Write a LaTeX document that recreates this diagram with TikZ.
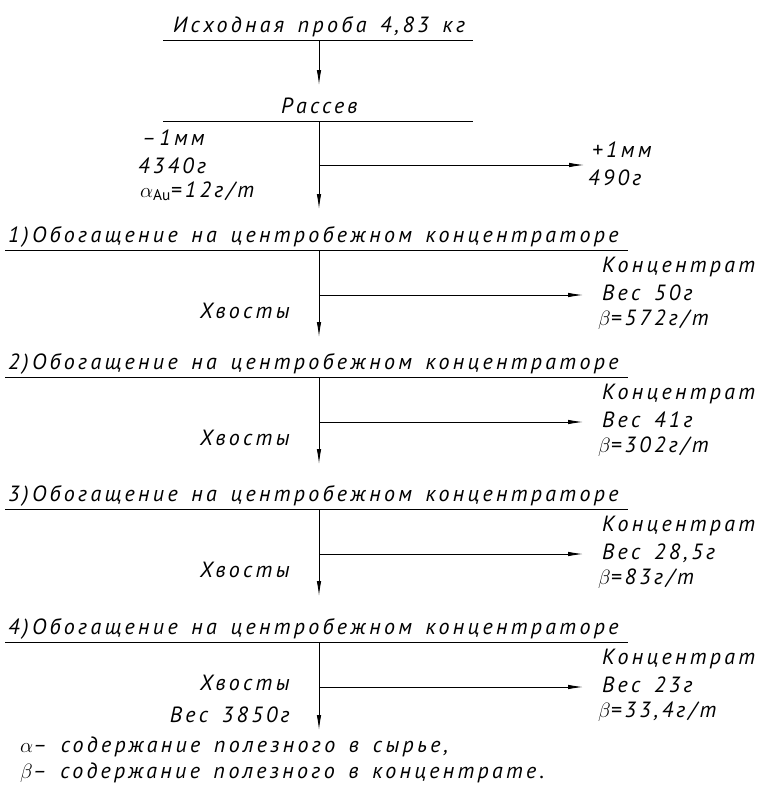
\documentclass[tikz,border=0pt]{standalone}
\usepackage{fontspec}
\setmainfont{PT Sans}[LetterSpace=15, WordSpace=1.5]
\usetikzlibrary{arrows.meta}
\begin{document}
\begin{tikzpicture}[x=1pt,y=-1pt,
  lbl/.style={inner sep=0pt, font=\fontsize{22}{26}\selectfont\itshape},
  flow/.style={-{Latex[length=15pt,width=4.5pt]}, line width=0.9pt},
  rule/.style={line width=0.9pt}]
\useasboundingbox (0,0) rectangle (757,809);

% --- source and sieving ---
\node[lbl, anchor=base west] (title) at (173,32) {Исходная проба 4,83 кг};
\coordinate (t1) at (163,40); \coordinate (t2) at (473,40);
\draw[rule] (t1) -- (t2);
\coordinate (a0) at (319,40); \coordinate (a0e) at (319,85);
\draw[flow] (a0) -- (a0e);

\node[lbl, anchor=base west] (sieve) at (281,113) {Рассев};
\coordinate (r1) at (163,121); \coordinate (r2) at (473,121);
\draw[rule] (r1) -- (r2);
\coordinate (rv) at (319,121); \coordinate (rve) at (319,209);
\coordinate (rb) at (319,165); \coordinate (rbe) at (584,165);
\draw[flow] (rv) -- (rve);
\draw[flow] (rb) -- (rbe);
\node[lbl, anchor=base west] (m1) at (142,145) {–1мм};
\node[lbl, anchor=base west] (m2) at (138,173) {4340г};
\node[lbl, anchor=base west] (m3) at (140,197) {$\alpha_{\mathrm{Au}}$=12г/т};
\node[lbl, anchor=base west] (p1) at (592,157) {+1мм};
\node[lbl, anchor=base west] (p2) at (588,185) {490г};

% --- stage 1 (L=250) ---
\node[lbl, anchor=base west] (s1) at (8,242) {1)Обогащение на центробежном концентраторе};
\coordinate (s1a) at (5,250); \coordinate (s1b) at (628,250);
\draw[rule] (s1a) -- (s1b);
\coordinate (s1v) at (319,250); \coordinate (s1ve) at (319,337);
\coordinate (s1h) at (319,295); \coordinate (s1he) at (583,295);
\draw[flow] (s1v) -- (s1ve);
\draw[flow] (s1h) -- (s1he);
\node[lbl, anchor=base west] (c1a) at (602,272) {Концентрат};
\node[lbl, anchor=base west] (c1b) at (602,300) {Вес 50г};
\node[lbl, anchor=base west] (c1c) at (598,325) {$\beta$=572г/т};
\node[lbl, anchor=base east] (x1) at (290,318) {Хвосты};

% --- stage 2 (L=377) ---
\node[lbl, anchor=base west] (s2) at (8,369) {2)Обогащение на центробежном концентраторе};
\coordinate (s2a) at (5,377); \coordinate (s2b) at (628,377);
\draw[rule] (s2a) -- (s2b);
\coordinate (s2v) at (319,377); \coordinate (s2ve) at (319,464);
\coordinate (s2h) at (319,422); \coordinate (s2he) at (583,422);
\draw[flow] (s2v) -- (s2ve);
\draw[flow] (s2h) -- (s2he);
\node[lbl, anchor=base west] (c2a) at (602,399) {Концентрат};
\node[lbl, anchor=base west] (c2b) at (602,427) {Вес 41г};
\node[lbl, anchor=base west] (c2c) at (598,452) {$\beta$=302г/т};
\node[lbl, anchor=base east] (x2) at (290,445) {Хвосты};

% --- stage 3 (L=509) ---
\node[lbl, anchor=base west] (s3) at (8,501) {3)Обогащение на центробежном концентраторе};
\coordinate (s3a) at (5,509); \coordinate (s3b) at (628,509);
\draw[rule] (s3a) -- (s3b);
\coordinate (s3v) at (319,509); \coordinate (s3ve) at (319,596);
\coordinate (s3h) at (319,554); \coordinate (s3he) at (583,554);
\draw[flow] (s3v) -- (s3ve);
\draw[flow] (s3h) -- (s3he);
\node[lbl, anchor=base west] (c3a) at (602,531) {Концентрат};
\node[lbl, anchor=base west] (c3b) at (602,559) {Вес 28,5г};
\node[lbl, anchor=base west] (c3c) at (598,584) {$\beta$=83г/т};
\node[lbl, anchor=base east] (x3) at (290,577) {Хвосты};

% --- stage 4 (L=642) ---
\node[lbl, anchor=base west] (s4) at (8,634) {4)Обогащение на центробежном концентраторе};
\coordinate (s4a) at (5,642); \coordinate (s4b) at (628,642);
\draw[rule] (s4a) -- (s4b);
\coordinate (s4v) at (319,642); \coordinate (s4ve) at (319,730);
\coordinate (s4h) at (319,687); \coordinate (s4he) at (583,687);
\draw[flow] (s4v) -- (s4ve);
\draw[flow] (s4h) -- (s4he);
\node[lbl, anchor=base west] (c4a) at (602,664) {Концентрат};
\node[lbl, anchor=base west] (c4b) at (602,692) {Вес 23г};
\node[lbl, anchor=base west] (c4c) at (598,717) {$\beta$=33,4г/т};
\node[lbl, anchor=base east] (x4) at (290,690) {Хвосты};
\node[lbl, anchor=base east] (x4w) at (290,722) {Вес 3850г};

% --- legend ---
\node[lbl, anchor=base west] (lg1) at (20,752) {$\alpha$– содержание полезного в сырье,};
\node[lbl, anchor=base west] (lg2) at (20,778) {$\beta$– содержание полезного в концентрате.};
\end{tikzpicture}
\end{document}
